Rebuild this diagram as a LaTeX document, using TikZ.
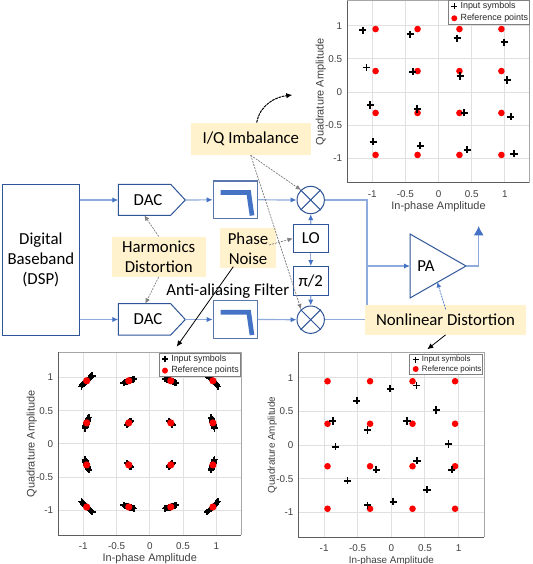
\documentclass[tikz,border=0pt]{standalone}
\usepackage{fontspec}
\setmainfont{Carlito}
\newfontfamily\plotfont{Liberation Sans}
\usetikzlibrary{arrows.meta,calc}
\definecolor{bluedark}{HTML}{2F5597}
\definecolor{bluemid}{HTML}{4472C4}
\definecolor{bluelight}{HTML}{8FAADC}
\definecolor{noteyellow}{HTML}{FFF2CC}
\definecolor{plotgray}{HTML}{404040}
\definecolor{gridgray}{HTML}{E0E0E0}
\tikzset{
  px/.style={x=0.75pt,y=-0.75pt},
  blockbox/.style={draw=bluedark,line width=0.75pt,fill=white},
  filterbox/.style={draw=bluedark!80!white,line width=0.9pt,fill=white},
  sig/.style={draw=bluelight,line width=0.9pt,-{Latex[length=4.5pt,width=4pt,color=bluemid]}},
  sigplain/.style={draw=bluelight,line width=0.9pt},
  lbl/.style={font=\fontsize{12.6pt}{15pt}\selectfont,text=black,inner sep=0pt,align=center},
  note/.style={fill=noteyellow,draw=none},
  grayarrow/.style={draw=gray,line width=0.55pt,dash pattern=on 1.5pt off 0.8pt,-{Latex[length=4pt,width=3.5pt]}},
  bluedash/.style={draw=bluemid,line width=0.55pt,dash pattern=on 1.5pt off 0.8pt,-{Latex[length=4pt,width=3.5pt]}},
  blackarrow/.style={draw=black,line width=0.6pt,-{Latex[length=4.5pt,width=4pt]}},
  filtersym/.style={draw=bluemid,line width=3.5pt,line join=miter},
  ticklbl/.style={font=\plotfont\fontsize{7.4pt}{9pt}\selectfont,text=plotgray,inner sep=0pt},
  axlbl/.style={text=plotgray,inner sep=0pt},
  leglbl/.style={text=black!85,inner sep=0pt,anchor=west},
  plusmark/.style={draw=black,line width=1.3pt},
  reddot/.style={fill=red,draw=none},
}
% args: prefix, L,T,R,B, cx,cy, unit(px), axis label font size
\newcommand{\PlotFrame}[9]{%
  \def\pn{#1}\def\pL{#2}\def\pT{#3}\def\pR{#4}\def\pB{#5}\def\pcx{#6}\def\pcy{#7}\def\pu{#8}\def\pfs{#9}%
  \fill[white] (\pL,\pT) rectangle (\pR,\pB);
  \foreach \v in {-1,-0.5,0,0.5,1}{
    \draw[gridgray,line width=0.7pt] ({\pcx+\v*\pu},\pT) -- ({\pcx+\v*\pu},\pB);
    \draw[gridgray,line width=0.7pt] (\pL,{\pcy-\v*\pu}) -- (\pR,{\pcy-\v*\pu});
    \node[ticklbl] (\pn x\v) at ({\pcx+\v*\pu},{\pB+11}) {\v};
    \node[ticklbl,anchor=east] (\pn y\v) at ({\pL-5},{\pcy-\v*\pu}) {\v};
  }
  \draw[gray!70,line width=0.8pt] (\pL,\pT) -- (\pR,\pT) -- (\pR,\pB);
  \draw[plotgray!85,line width=0.7pt] (\pL,\pT) -- (\pL,\pB) -- (\pR,\pB);
  \node[axlbl,font=\plotfont\fontsize{\pfs pt}{10pt}\selectfont] (\pn xlabel) at (\pcx,{\pB+23.5}) {In-phase Amplitude};
  \node[axlbl,font=\plotfont\fontsize{\pfs pt}{10pt}\selectfont,rotate=90] (\pn ylabel) at ({\pL-26.5},\pcy) {Quadrature Amplitude};
}
% prefix, L,T,R,B, font size
\newcommand{\PlotLegend}[6]{%
  \draw[gray,line width=0.7pt,fill=white] (#2,#3) rectangle (#4,#5);
  \draw[plusmark,line width=1.1pt] ({#2+6},{#3+5.7}) ++(-3,0) -- ++(6,0) ({#2+6},{#3+5.7}) ++(0,-3) -- ++(0,6);
  \fill[reddot] ({#2+6},{#5-5.7}) circle (3);
  \node[leglbl,font=\plotfont\fontsize{#6pt}{8pt}\selectfont] (#1 lega) at ({#2+12},{#3+5.7}) {Input symbols};
  \node[leglbl,font=\plotfont\fontsize{#6pt}{8pt}\selectfont] (#1 legb) at ({#2+12},{#5-5.7}) {Reference points};
}
\newcommand{\RefDots}[4]{% cx cy u r
  \foreach \a in {-0.949,-0.316,0.316,0.949}\foreach \b in {-0.949,-0.316,0.316,0.949}{
    \fill[reddot] ({#1+\a*#3},{#2-\b*#3}) circle (#4);
  }
}
\newcommand{\Plus}[3]{% px py halfsize
  \draw[plusmark] ({#1-#3},#2) -- ({#1+#3},#2) ({#1},{#2-#3}) -- ({#1},{#2+#3});
}
\begin{document}
\begin{tikzpicture}[px]
\useasboundingbox (0,0) rectangle (532,564);
\fill[white] (0,0) rectangle (532,564);

% ---------- block diagram ----------
\node[blockbox,inner sep=0pt,lbl,draw,anchor=north west,text width=58pt,minimum height=113pt] (dsp) at (1.7,184.3) {Digital\\Baseband\\(DSP)};

\draw[blockbox] (118.3,184.3) -- (170.7,184.3) -- (185.3,200) -- (170.7,215.3) -- (118.3,215.3) -- cycle;
\node[lbl] (dac1) at (148,200) {DAC};
\coordinate (dac1w) at (118.3,200); \coordinate (dac1e) at (185.3,200);
\coordinate (dac1n) at (144.3,215.3);
\draw[blockbox] (118.3,303.7) -- (170.7,303.7) -- (185.3,319.5) -- (170.7,335) -- (118.3,335) -- cycle;
\node[lbl] (dac2) at (148,319.5) {DAC};
\coordinate (dac2w) at (118.3,319.5); \coordinate (dac2e) at (185.3,319.5);
\coordinate (dac2s) at (145.3,303.7);

\node[filterbox,minimum width=33pt,minimum height=28.2pt,inner sep=0pt] (f1) at (235.3,199.8) {};
\node[filterbox,minimum width=33pt,minimum height=28.2pt,inner sep=0pt] (f2) at (235.3,319.5) {};
\draw[filtersym] (220.7,192.5) -- (248.7,192.5) -- (252,215.5);
\draw[filtersym] (220.7,312.2) -- (248.7,312.2) -- (252,335);

\node[blockbox,circle,minimum size=20.5pt,inner sep=0pt] (m1) at (310.7,200) {};
\draw[bluedark,line width=0.75pt] (m1.north west) -- (m1.south east) (m1.north east) -- (m1.south west);
\node[blockbox,circle,minimum size=20.5pt,inner sep=0pt] (m2) at (310.7,319.7) {};
\draw[bluedark,line width=0.75pt] (m2.north west) -- (m2.south east) (m2.north east) -- (m2.south west);

\node[blockbox,lbl,draw,minimum width=26.2pt,minimum height=21.3pt] (lo) at (310.8,238.5) {LO};
\node[blockbox,lbl,draw,minimum width=26.2pt,minimum height=21.3pt] (pi2) at (310.8,280.8) {π/2};

\draw[blockbox] (410,234) -- (466,266) -- (410,298) -- cycle;
\node[lbl] (pa) at (426,266.5) {PA};
\coordinate (paw) at (410,266); \coordinate (pae) at (466,266);
\coordinate (bus) at (367,266);
\coordinate (out) at (478.7,226);

% connectors
\draw[sig] (dsp.east |- dac1w) -- (dac1w);
\draw[sig] (dsp.east |- dac2w) -- (dac2w);
\draw[sig] (dac1e) -- (f1.west);
\draw[sig] (dac2e) -- (f2.west);
\draw[sig] (f1.east) -- (m1.west);
\draw[sig] (f2.east) -- (m2.west);
\draw[sigplain] (m1.east) -- (bus |- m1.east) -- (bus |- m2.east) -- (m2.east);
\draw[sig] (bus) -- (paw);
\draw[sigplain] (pae) -- (out |- pae);
\draw[draw=bluelight,line width=0.9pt,-{Latex[length=7pt,width=7.5pt,color=bluemid]}] (out |- pae) -- (out);
\draw[sig] (lo) -- (m1);
\draw[sig] (lo) -- (pi2);
\draw[sig] (pi2) -- (m2);

% ---------- plots ----------
% top right
\PlotFrame{a}{347.3}{0.7}{529.3}{182.7}{438.5}{92}{66.3}{8.2}
\PlotLegend{a}{448.3}{0.7}{529.3}{24}{6.7}
\RefDots{438.5}{92}{66.3}{3.3}
\foreach \a/\b in {-1.141/.93,-.427/.87,.281/.81,.99/.75,-1.085/.37,-.387/.305,.327/.24,1.035/.18,-1.03/-.195,-.32/-.255,.387/-.315,1.09/-.375,-.985/-.75,-.276/-.81,.432/-.87,1.14/-.93}{
  \Plus{438.5+\a*66.3}{92-\b*66.3}{3.6}
}
% bottom left
\PlotFrame{b}{58.3}{352.3}{241.3}{535.3}{149.8}{443.9}{66.5}{8.2}
\foreach \a in {-0.949,-0.316,0.316,0.949}\foreach \b in {-0.949,-0.316,0.316,0.949}{
  \foreach \t in {-5,...,5}{
    \pgfmathsetmacro{\ang}{\t*0.98}
    \pgfmathsetmacro{\xx}{149.8+66.5*(\a*cos(\ang)-\b*sin(\ang))}
    \pgfmathsetmacro{\yy}{443.9-66.5*(\a*sin(\ang)+\b*cos(\ang))}
    \Plus{\xx}{\yy}{3.2}
  }
}
\RefDots{149.8}{443.9}{66.5}{3.6}
\PlotLegend{b}{159}{353.3}{240.3}{376.3}{6.7}
% bottom right
\PlotFrame{c}{298.7}{352.3}{484.3}{537}{391.3}{445}{67.2}{7.4}
\RefDots{391.3}{445}{67.2}{3.3}
\foreach \a/\b in {-.015/.836,.376/.886,-.515/.657,.668/.522,-.871/.358,.233/.358,-.356/.224,.851/.015,-.832/-.025,.381/-.234,-.223/-.368,.901/-.368,-.653/-.532,.53/-.667,.03/-.846,-.356/-.896}{
  \Plus{391.3+\a*67.2}{445-\b*67.2}{3.6}
}
\PlotLegend{c}{409.7}{354}{482.7}{374.7}{5.9}

% ---------- notes ----------
\node[note,lbl,minimum width=70.5pt,minimum height=30pt] (harm) at (158.7,256.7) {Harmonics\\Distortion};
\node[note,lbl,minimum width=42pt,minimum height=30pt] (phase) at (248,248.3) {Phase\\Noise};
\node[note,lbl,minimum width=89.7pt,minimum height=24.2pt] (iq) at (250.8,139.2) {I/Q Imbalance};
\node[note,lbl,minimum width=120.7pt,minimum height=22pt] (nl) at (445.5,320) {Nonlinear Distortion};
\node[lbl] (aaf) at (227.8,290.7) {Anti-aliasing Filter};

% impairment arrows
\coordinate (iqs) at (250.7,155.3);
\draw[grayarrow] (harm.north) -- (dac1n);
\draw[grayarrow] (harm.south) -- (dac2s);
\draw[grayarrow] (iqs) -- (301,190);
\draw[grayarrow] (iqs) -- (301,309.3);
\draw[grayarrow] (269,245) -- (lo.west);
\draw[bluedash] (445.7,309.3) -- (437.3,282);
\draw[blackarrow] (nl.south) -- (427.3,349.3);
\draw[blackarrow] (233.3,266.7) -- (176.7,346.7);
\draw[blackarrow,dash pattern=on 2pt off 0.6pt,line width=0.75pt] (256.7,122.5) .. controls (260,105) and (275,97) .. (292.3,95);
\end{tikzpicture}
\end{document}
